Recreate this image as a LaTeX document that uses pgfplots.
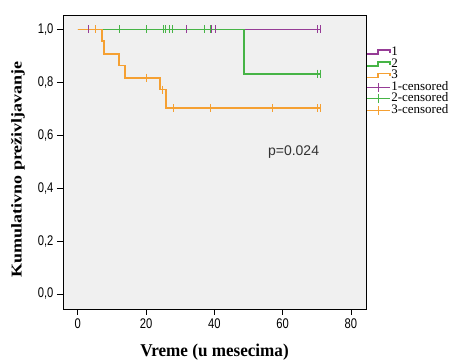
\documentclass[border=0pt]{standalone}
\usepackage{fontspec}
\setmainfont{Liberation Serif}
\newfontfamily\tickfont[FakeStretch=0.8]{Liberation Sans}
\newfontfamily\lblfont[FakeStretch=0.95]{Liberation Serif}
\newfontfamily\ylblfont[FakeStretch=1.2]{Liberation Serif}
\newfontfamily\legfont{Liberation Serif}
\newfontfamily\pfont{Liberation Sans}
\usepackage{pgfplots}
\pgfplotsset{compat=1.18}
\definecolor{gpurple}{RGB}{150,60,150}
\definecolor{ggreen}{RGB}{70,180,70}
\definecolor{gorange}{RGB}{245,160,50}
\definecolor{bggray}{RGB}{240,240,240}
\begin{document}
\begin{tikzpicture}
\useasboundingbox (-63pt,-53pt) rectangle (388pt,309pt);
\begin{axis}[
  at={(0,0)}, anchor=south west,
  scale only axis, width=303pt, height=294pt,
  xmin=-4.3, xmax=84.4, ymin=-0.0567, ymax=1.0548,
  axis background/.style={fill=bggray},
  axis line style={black, line width=0.8pt},
  xtick={0,20,40,60,80},
  ytick={0,0.2,0.4,0.6,0.8,1.0},
  tick pos=left, tick align=outside,
  major tick length=6pt,
  tick style={black, line width=0.8pt},
  /pgf/number format/assume math mode=true,
  yticklabel style={/pgf/number format/.cd, use comma, fixed, fixed zerofill, precision=1},
  ticklabel style={font=\tickfont\fontsize{14}{16}\selectfont},
  xlabel={Vreme (u mesecima)},
  ylabel={Kumulativno preživljavanje},
  xlabel style={font=\lblfont\bfseries\fontsize{18}{20}\selectfont, at={(axis description cs:0.5,-0.146)}, anchor=center},
  ylabel style={font=\ylblfont\bfseries\fontsize{15}{17}\selectfont, at={(axis description cs:-0.149,0.475)}, anchor=center, rotate=0},
  legend style={at={(axis description cs:1.0,0.892)}, anchor=north west, draw=none, fill=none,
    font=\legfont\fontsize{13}{12}\selectfont, row sep=1.1pt, inner sep=0pt,
    nodes={inner sep=0.5pt, text height=8pt, text depth=1.5pt},
    cells={anchor=west}},
  legend cell align=left,
  clip=false,
]
% step lines
\addplot[const plot, color=gpurple, line width=1.9pt,
  legend image code/.code={\draw[gpurple, line width=1.6pt] (0pt,-2pt) -- (11pt,-2pt) -- (11pt,2pt) -- (23pt,2pt) -- (23pt,-1pt);}]
  coordinates {(0,1) (71.2,1)};
\addlegendentry{1}
\addplot[const plot, color=ggreen, line width=1.9pt,
  legend image code/.code={\draw[ggreen, line width=1.6pt] (0pt,-2pt) -- (11pt,-2pt) -- (11pt,2pt) -- (23pt,2pt) -- (23pt,-1pt);}]
  coordinates {(0,1) (48.8,0.833) (71.0,0.833)};
\addlegendentry{2}
\addplot[const plot, color=gorange, line width=1.9pt,
  legend image code/.code={\draw[gorange, line width=1.6pt] (0pt,-2pt) -- (11pt,-2pt) -- (11pt,2pt) -- (23pt,2pt) -- (23pt,-1pt);}]
  coordinates {(0,1) (7.0,0.955) (7.7,0.909) (12.2,0.864) (13.9,0.818) (24.1,0.773) (25.9,0.703) (71.2,0.703)};
\addlegendentry{3}
% censored marks
\addplot[only marks, mark=|, mark size=4pt, color=gpurple, mark options={line width=0.9pt},
  legend image code/.code={\draw[gpurple, line width=0.8pt] (0pt,0pt) -- (23pt,0pt); \draw[gpurple, line width=0.8pt] (11.5pt,-4.5pt) -- (11.5pt,4.5pt);}]
  coordinates {(3.1,1) (31.9,1) (39.2,1) (40.2,1) (70.2,1) (71.2,1)};
\addlegendentry{1-censored}
\addplot[only marks, mark=|, mark size=4pt, color=ggreen, mark options={line width=0.9pt},
  legend image code/.code={\draw[ggreen, line width=0.8pt] (0pt,0pt) -- (23pt,0pt); \draw[ggreen, line width=0.8pt] (11.5pt,-4.5pt) -- (11.5pt,4.5pt);}]
  coordinates {(12.2,1) (20,1) (25,1) (25.6,1) (26.8,1) (27.6,1) (37.1,1) (38.8,1) (70.2,0.833) (71,0.833)};
\addlegendentry{2-censored}
\addplot[only marks, mark=|, mark size=4pt, color=gorange, mark options={line width=0.9pt},
  legend image code/.code={\draw[gorange, line width=0.8pt] (0pt,0pt) -- (23pt,0pt); \draw[gorange, line width=0.8pt] (11.5pt,-4.5pt) -- (11.5pt,4.5pt);}]
  coordinates {(5.1,1) (20,0.818) (24.8,0.773) (28,0.703) (38.9,0.703) (57,0.703) (70.2,0.703) (71,0.703)};
\addlegendentry{3-censored}
\node[font=\pfont\fontsize{14}{16}\selectfont, text=black!80] at (axis cs:63.2,0.537) {p=0.024};
\end{axis}
\end{tikzpicture}
\end{document}
